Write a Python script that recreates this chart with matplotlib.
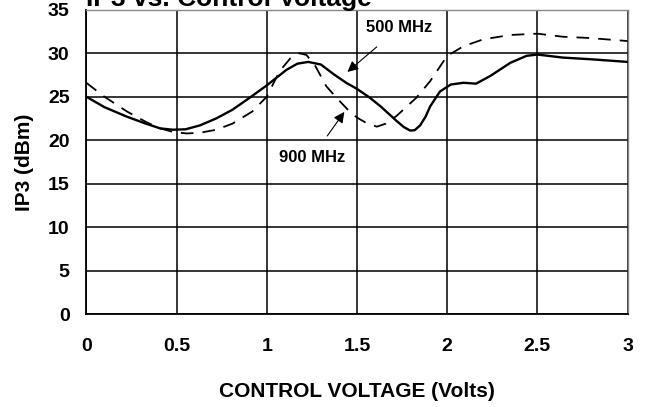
import matplotlib
matplotlib.use("Agg")
import matplotlib.pyplot as plt

plt.rcParams['font.family'] = ['Liberation Sans', 'DejaVu Sans']
plt.rcParams['font.weight'] = 'bold'

# 500 MHz (solid)
v500 = [0.0, 0.1, 0.225, 0.33, 0.41, 0.48, 0.55, 0.63, 0.72, 0.81, 0.9, 1.0, 1.11, 1.17, 1.23,
        1.3, 1.37, 1.44, 1.5, 1.57, 1.63, 1.72, 1.76, 1.795, 1.82, 1.85, 1.88, 1.906, 1.96,
        2.02, 2.09, 2.16, 2.24, 2.35, 2.44, 2.5, 2.64, 2.8, 3.0]
ip500 = [25.0, 23.8, 22.7, 21.9, 21.35, 21.2, 21.25, 21.7, 22.5, 23.5, 24.8, 26.3, 28.1, 28.8, 29.0,
         28.7, 27.6, 26.6, 25.9, 24.9, 23.9, 22.2, 21.5, 21.1, 21.15, 21.7, 22.7, 23.9, 25.6,
         26.4, 26.6, 26.5, 27.4, 28.9, 29.7, 29.85, 29.5, 29.3, 29.0]

# 900 MHz (dashed)
v900 = [0.0, 0.1, 0.225, 0.33, 0.41, 0.48, 0.556, 0.63, 0.72, 0.81, 0.92, 1.0, 1.07, 1.13, 1.18,
        1.22, 1.27, 1.33, 1.39, 1.454, 1.5, 1.55, 1.61, 1.66, 1.72, 1.83, 1.906, 2.0, 2.09,
        2.2, 2.35, 2.5, 2.64, 2.79, 3.0]
ip900 = [26.6, 25.0, 23.3, 22.1, 21.35, 20.95, 20.77, 20.85, 21.2, 21.9, 23.3, 25.0, 27.9, 29.4, 30.0,
         29.8, 28.5, 26.2, 24.8, 23.4, 22.6, 22.0, 21.55, 21.9, 22.8, 24.9, 26.8, 29.7, 30.8,
         31.6, 32.1, 32.25, 31.9, 31.75, 31.4]

xticks = [0, 0.5, 1, 1.5, 2, 2.5, 3]
xticklabels = ['0', '0.5', '1', '1.5', '2', '2.5', '3']
yticks = [0, 5, 10, 15, 20, 25, 30, 35]

fig = plt.figure(figsize=(6.46, 4.07), dpi=100)
ax = fig.add_axes([0.1336, 0.2285, 0.838, 0.7475])

ax.plot(v500, ip500, color='black', lw=1.7, solid_capstyle='round')
ax.plot(v900, ip900, color='black', lw=1.3, dashes=(7, 5))

ax.set_xlim(0, 3)
ax.set_ylim(0, 35)
ax.set_xticks(xticks)
ax.set_xticklabels(xticklabels)
ax.set_yticks(yticks)
ax.grid(True, color='black', lw=1.1)
ax.tick_params(length=0, labelsize=14)
ax.tick_params(axis='x', pad=17)
ax.tick_params(axis='y', pad=12)
for lbl in ax.get_xticklabels() + ax.get_yticklabels():
    lbl.set_fontweight('bold')
for s in ['left', 'bottom']:
    ax.spines[s].set_linewidth(1.3)
for s in ['top', 'right']:
    ax.spines[s].set_color('#888888')
    ax.spines[s].set_linewidth(1.0)

ax.set_xlabel('CONTROL VOLTAGE (Volts)', fontsize=15, fontweight='bold', labelpad=20)
ax.set_ylabel('IP3 (dBm)', fontsize=15, fontweight='bold', labelpad=10)

# title is partly cut off at the top edge, as in the original
fig.text(0.1336, 0.985, 'IP3 vs. Control Voltage', fontsize=19, fontweight='bold',
         ha='left', va='baseline')

ax.annotate('500 MHz', xy=(1.447, 27.85), xytext=(1.735, 32.95), fontsize=12, fontweight='bold',
            ha='center', va='center',
            arrowprops=dict(arrowstyle='-|>', color='black', lw=0.8, mutation_scale=16,
                            shrinkA=10, shrinkB=0))
ax.annotate('900 MHz', xy=(1.43, 23.25), xytext=(1.25, 18.0), fontsize=12, fontweight='bold',
            ha='center', va='center',
            arrowprops=dict(arrowstyle='-|>', color='black', lw=0.8, mutation_scale=16,
                            shrinkA=10, shrinkB=0))

fig.savefig('out.png', dpi=100)
